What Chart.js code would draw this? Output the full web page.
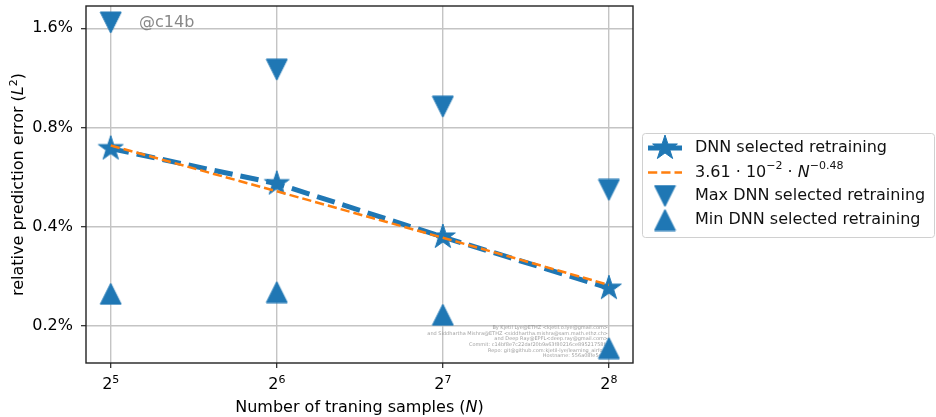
<!DOCTYPE html>
<html>
<head>
<meta charset="utf-8">
<script src="https://cdn.jsdelivr.net/npm/chart.js@4.4.0/dist/chart.umd.min.js"></script>
<style>
  html, body { margin: 0; padding: 0; background: #fff; }
  #wrap { width: 936px; height: 417px; position: relative; }
</style>
</head>
<body>
<div id="wrap"><canvas id="errChart"></canvas></div>
<script>
// values (error in %)
const samples = [32, 64, 128, 256]
const dnnSelected = [0.690, 0.540, 0.372, 0.260]
const fitLine = [0.705, 0.512, 0.370, 0.266]
const maxSelected = [1.666, 1.198, 0.925, 0.517]
const minSelected = [0.250, 0.253, 0.216, 0.171]

const xTicks = [32, 64, 128, 256]
const xTickBase = '2'
const xTickExp = ['5', '6', '7', '8']
const yTicks = [0.2, 0.4, 0.8, 1.6]
const yTickLabels = ['0.2%', '0.4%', '0.8%', '1.6%']

const legendLabels = ['DNN selected retraining', 'fit', 'Max DNN selected retraining', 'Min DNN selected retraining']
const watermark = [
  'By Kjetil Lye@ETHZ <kjetil.o.lye@gmail.com>',
  'and Siddhartha Mishra@ETHZ <siddhartha.mishra@sam.math.ethz.ch>',
  'and Deep Ray@EPFL<deep.ray@gmail.com>',
  'Commit: c14bf8e7c22daf20b9a63f80216ce89521758fc',
  'Repo: git@github.com:kjetil-lye/learning_airfoils',
  'Hostname: 556a08fe5e6b'
]

const blue = '#1f77b4'
const orange = '#ff7f0e'
const FONT = "'DejaVu Sans', sans-serif"
const big = '16px ' + FONT
const sup = '11px ' + FONT

Chart.defaults.font.family = FONT
Chart.defaults.font.size = 16
Chart.defaults.color = '#000'

function starMarker(r, color) {
  const c = document.createElement('canvas')
  const s = Math.ceil(2 * r + 4)
  c.width = s; c.height = s
  const ctx = c.getContext('2d')
  ctx.beginPath()
  for (let i = 0; i < 10; i++) {
    const rr = i % 2 ? r * 0.381966 : r
    const a = Math.PI * i / 5
    ctx.lineTo(s / 2 + rr * Math.sin(a), s / 2 - rr * Math.cos(a))
  }
  ctx.closePath()
  ctx.fillStyle = color
  ctx.fill()
  ctx.lineWidth = 1
  ctx.strokeStyle = color
  ctx.stroke()
  return c
}

function triMarker(size, color, down) {
  const c = document.createElement('canvas')
  const s = size + 2
  c.width = s; c.height = s
  const ctx = c.getContext('2d')
  const h = size / 2, m = s / 2
  ctx.beginPath()
  if (down) {
    ctx.moveTo(m - h, m - h); ctx.lineTo(m + h, m - h); ctx.lineTo(m, m + h)
  } else {
    ctx.moveTo(m - h, m + h); ctx.lineTo(m + h, m + h); ctx.lineTo(m, m - h)
  }
  ctx.closePath()
  ctx.fillStyle = color
  ctx.fill()
  ctx.lineWidth = 1
  ctx.strokeStyle = color
  ctx.stroke()
  return c
}

const starImg = starMarker(13, blue)
const downImg = triMarker(21, blue, true)
const upImg = triMarker(21, blue, false)

function richWidth(ctx, parts) {
  let w = 0
  for (const p of parts) { ctx.font = p.font; w += ctx.measureText(p.text).width }
  return w
}
function drawRich(ctx, parts, x, y) {
  for (const p of parts) {
    ctx.font = p.font
    ctx.fillText(p.text, x, y + (p.dy || 0))
    x += ctx.measureText(p.text).width
  }
}

const extras = {
  id: 'extras',
  beforeDatasetsDraw(chart) {
    const ctx = chart.ctx
    ctx.save()
    ctx.fillStyle = 'rgba(128,128,128,0.75)'
    ctx.font = '5px ' + FONT
    ctx.textAlign = 'right'
    ctx.textBaseline = 'middle'
    watermark.forEach((t, i) => ctx.fillText(t, 608, 328 + i * 5.6))
    ctx.fillStyle = '#888'
    ctx.font = big
    ctx.textAlign = 'left'
    ctx.fillText('@c14b', 139, 23)
    ctx.restore()
  },
  afterDatasetsDraw(chart) {
    const ctx = chart.ctx
    const a = chart.chartArea
    ctx.save()
    ctx.strokeStyle = '#222'
    ctx.lineWidth = 1.4
    ctx.strokeRect(a.left, a.top, a.right - a.left, a.bottom - a.top)
    ctx.restore()
  },
  afterDraw(chart) {
    const ctx = chart.ctx
    const a = chart.chartArea
    const xs = chart.scales.x
    ctx.save()
    ctx.fillStyle = '#000'
    ctx.textAlign = 'left'
    ctx.textBaseline = 'alphabetic'

    // x tick labels 2^k
    xTicks.forEach((v, i) => {
      const parts = [{ text: xTickBase, font: big }, { text: xTickExp[i], font: sup, dy: -6.5 }]
      const w = richWidth(ctx, parts)
      drawRich(ctx, parts, xs.getPixelForValue(v) - w / 2, 389)
    })

    // x axis title
    const xt = [
      { text: 'Number of traning samples (', font: big },
      { text: 'N', font: 'italic ' + big },
      { text: ')', font: big }
    ]
    const xw = richWidth(ctx, xt)
    drawRich(ctx, xt, (a.left + a.right) / 2 - xw / 2, 412)

    // y axis title, rotated
    const yt = [
      { text: 'relative prediction error (', font: big },
      { text: 'L', font: 'italic ' + big },
      { text: '2', font: sup, dy: -6.5 },
      { text: ')', font: big }
    ]
    const yw = richWidth(ctx, yt)
    ctx.save()
    ctx.translate(23, (a.top + a.bottom) / 2)
    ctx.rotate(-Math.PI / 2)
    drawRich(ctx, yt, -yw / 2, 0)
    ctx.restore()

    // legend box
    ctx.beginPath()
    ctx.roundRect(642.5, 133.5, 292, 104, 3)
    ctx.fillStyle = 'rgba(255,255,255,0.85)'
    ctx.fill()
    ctx.strokeStyle = '#d0d0d0'
    ctx.lineWidth = 1
    ctx.stroke()

    const rows = [148, 172.5, 196, 220]
    ctx.lineCap = 'butt'
    ctx.strokeStyle = blue
    ctx.lineWidth = 5
    ctx.setLineDash([18.5, 8])
    ctx.lineDashOffset = 6
    ctx.beginPath(); ctx.moveTo(648, rows[0]); ctx.lineTo(682, rows[0]); ctx.stroke()
    ctx.setLineDash([])
    ctx.drawImage(starImg, 665 - starImg.width / 2, rows[0] - starImg.height / 2)
    ctx.strokeStyle = orange
    ctx.lineWidth = 2.5
    ctx.setLineDash([9.25, 4])
    ctx.lineDashOffset = 0
    ctx.beginPath(); ctx.moveTo(648, rows[1]); ctx.lineTo(682, rows[1]); ctx.stroke()
    ctx.setLineDash([])
    ctx.drawImage(downImg, 665 - downImg.width / 2, rows[2] - downImg.height / 2)
    ctx.drawImage(upImg, 665 - upImg.width / 2, rows[3] - upImg.height / 2)

    ctx.fillStyle = '#111'
    ctx.textBaseline = 'middle'
    ctx.font = big
    ctx.fillText(legendLabels[0], 695, rows[0])
    ctx.fillText(legendLabels[2], 695, rows[2])
    ctx.fillText(legendLabels[3], 695, rows[3])
    drawRich(ctx, [
      { text: '3.61 · 10', font: big },
      { text: '−2', font: sup, dy: -6 },
      { text: ' · ', font: big },
      { text: 'N', font: 'italic ' + big },
      { text: '−0.48', font: sup, dy: -6 }
    ], 695, rows[1])
    ctx.restore()
  }
}

new Chart('errChart', {
  type: 'line',
  data: {
    datasets: [
      {
        label: legendLabels[1],
        data: samples.map((x, i) => ({ x: x, y: fitLine[i] })),
        borderColor: orange,
        borderWidth: 2.5,
        borderDash: [9.25, 4],
        pointRadius: 0,
        order: 1
      },
      {
        label: legendLabels[0],
        data: samples.map((x, i) => ({ x: x, y: dnnSelected[i] })),
        borderColor: blue,
        backgroundColor: blue,
        borderWidth: 5,
        borderDash: [18.5, 8],
        pointStyle: starImg,
        pointRadius: 13,
        order: 2
      },
      {
        label: legendLabels[2],
        data: samples.map((x, i) => ({ x: x, y: maxSelected[i] })),
        showLine: false,
        pointStyle: downImg,
        pointRadius: 11,
        order: 3
      },
      {
        label: legendLabels[3],
        data: samples.map((x, i) => ({ x: x, y: minSelected[i] })),
        showLine: false,
        pointStyle: upImg,
        pointRadius: 11,
        order: 4
      }
    ]
  },
  options: {
    responsive: true,
    maintainAspectRatio: false,
    animation: false,
    layout: { autoPadding: false, padding: { left: 0, right: 303, top: 6, bottom: 0 } },
    plugins: {
      legend: { display: false },
      tooltip: { enabled: false }
    },
    scales: {
      x: {
        type: 'logarithmic',
        min: 28.86,
        max: 283.1,
        afterBuildTicks: s => { s.ticks = xTicks.map(v => ({ value: v })) },
        afterFit: s => { s.height = 54; s.paddingLeft = 0; s.paddingRight = 0 },
        ticks: { display: false, autoSkip: false, maxRotation: 0 },
        grid: { color: '#c4c4c4', lineWidth: 1.4, tickColor: '#222', tickLength: 5, tickWidth: 1.2 },
        border: { display: false },
        title: { display: false }
      },
      y: {
        type: 'logarithmic',
        min: 0.1541,
        max: 1.870,
        afterBuildTicks: s => { s.ticks = yTicks.map(v => ({ value: v })) },
        afterFit: s => { s.width = 86; s.paddingTop = 0; s.paddingBottom = 0 },
        ticks: {
          autoSkip: false,
          padding: 8,
          color: '#000',
          font: { size: 16 },
          callback: v => yTickLabels[yTicks.indexOf(v)]
        },
        grid: { color: '#c4c4c4', lineWidth: 1.4, tickColor: '#222', tickLength: 5, tickWidth: 1.2 },
        border: { display: false },
        title: { display: false }
      }
    }
  },
  plugins: [extras]
})
</script>
</body>
</html>
